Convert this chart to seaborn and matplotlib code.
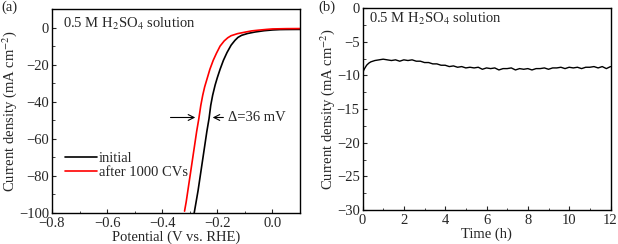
import seaborn as sns
import matplotlib.pyplot as plt
from matplotlib.ticker import MultipleLocator
import numpy as np
import pandas as pd

# LSV curves (potential in V vs RHE, current density in mA cm-2)
pot_init = [0.1, 0.05, 0.027, 0.0, -0.03, -0.063, -0.09, -0.112, -0.125, -0.136,
            -0.15, -0.165, -0.178, -0.19, -0.2, -0.208, -0.217, -0.224, -0.23, -0.238,
            -0.246, -0.254, -0.262, -0.27, -0.277, -0.284]
j_init = [-1.0, -1.05, -1.1, -1.3, -1.7, -2.4, -3.2, -4.2, -5.3, -6.9,
          -9.5, -13.5, -17.7, -22.5, -27, -31, -36.5, -42, -49, -56,
          -64, -72, -80, -88, -94, -100]
pot_cv = [0.1, 0.05, 0.0, -0.021, -0.05, -0.075, -0.1, -0.127, -0.15, -0.162,
          -0.175, -0.19, -0.203, -0.215, -0.227, -0.237, -0.246, -0.253, -0.26, -0.267,
          -0.275, -0.283, -0.291, -0.299, -0.307, -0.313, -0.319]
j_cv = [-0.55, -0.6, -0.75, -1.0, -1.4, -1.8, -2.5, -3.3, -4.4, -5.5,
        -7.2, -10, -13.8, -17.7, -22.5, -27.5, -32, -36.5, -42, -49,
        -56, -64, -72, -80, -88, -94, -99]

# chronoamperometry
time_h = [0.0, 0.05, 0.1, 0.2, 0.3, 0.4, 0.5, 0.6, 0.8, 1.0, 1.2, 1.4, 1.6, 1.8, 2.0, 2.2, 2.4, 2.6,
          2.8, 3.0, 3.2, 3.4, 3.6, 3.8, 4.0, 4.2, 4.4, 4.6, 4.8, 5.0, 5.2, 5.4, 5.6, 5.8,
          6.0, 6.2, 6.4, 6.6, 6.8, 7.0, 7.2, 7.4, 7.6, 7.8, 8.0, 8.2, 8.4, 8.6, 8.8,
          9.0, 9.2, 9.4, 9.6, 9.8, 10.0, 10.2, 10.4, 10.6, 10.8, 11.0, 11.2, 11.4, 11.6, 11.8, 12.0]
j_time = [-9.8, -9.3, -9.0, -8.5, -8.2, -8.0, -7.9, -7.8, -7.7, -7.6, -7.7, -7.8, -7.7, -7.9, -7.7, -7.8, -7.7, -7.9,
          -7.9, -8.1, -8.1, -8.3, -8.3, -8.5, -8.5, -8.7, -8.6, -8.8, -8.7, -8.9, -8.8, -8.9, -8.8, -9.1,
          -8.9, -9.0, -8.9, -9.2, -9.0, -9.0, -8.9, -9.2, -9.0, -9.1, -9.0, -9.2, -9.0, -9.0, -8.9,
          -9.1, -8.9, -8.9, -8.8, -9.0, -8.8, -8.9, -8.8, -9.0, -8.8, -8.8, -8.7, -8.9, -8.7, -9.0, -8.7]

lsv = pd.DataFrame({
    'pot': pot_init + pot_cv,
    'j': j_init + j_cv,
    'curve': ['initial'] * len(pot_init) + ['after 1000 CVs'] * len(pot_cv),
})
ca = pd.DataFrame({'t': time_h, 'j': j_time})

sns.set_style("ticks")
plt.rcParams['font.family'] = ['Liberation Serif', 'DejaVu Serif']
plt.rcParams['mathtext.fontset'] = 'stix'
plt.rcParams['font.size'] = 10.5
plt.rcParams['xtick.direction'] = 'in'
plt.rcParams['ytick.direction'] = 'in'

fig = plt.figure(figsize=(6.18, 2.44), dpi=100)
ax1 = fig.add_axes([52 / 618, 1 - 213 / 244, 248 / 618, 204 / 244])
ax2 = fig.add_axes([362.5 / 618, 1 - 210 / 244, 248 / 618, 202 / 244])

sns.lineplot(data=lsv, x='pot', y='j', hue='curve', palette=['black', 'red'],
             sort=False, lw=1.2, ax=ax1)
ax1.set_xlim(-0.8, 0.1)
ax1.set_ylim(-100, 10)
ax1.xaxis.set_minor_locator(MultipleLocator(0.1))
ax1.yaxis.set_major_locator(MultipleLocator(20))
ax1.yaxis.set_minor_locator(MultipleLocator(10))
ax1.set_xticks([-0.8, -0.6, -0.4, -0.2, 0.0])
ax1.set_xticklabels(['\u22120.8', '\u22120.6', '\u22120.4', '\u22120.2', '0.0'])
ax1.set_xlabel('Potential (V vs. RHE)', labelpad=0)
ax1.set_ylabel('Current density (mA cm$^{-2}$)', labelpad=0)
ax1.legend(loc='lower left', bbox_to_anchor=(0.0, 0.1), frameon=False,
           handlelength=2.2, handletextpad=0.1, labelspacing=0.1, borderaxespad=0.5)
ax1.text(-0.76, 2, '0.5 M H$_2$SO$_4$ solution', va='center', ha='left')
ax1.annotate('', xy=(-0.27, -48.5), xytext=(-0.38, -48.5),
             arrowprops=dict(arrowstyle='->', color='black', lw=0.8))
ax1.annotate('', xy=(-0.227, -48.5), xytext=(-0.168, -48.5),
             arrowprops=dict(arrowstyle='->', color='black', lw=0.8))
ax1.text(-0.16, -48.5, '\u0394=36 mV', va='center', ha='left')

sns.lineplot(data=ca, x='t', y='j', color='black', lw=1.0, ax=ax2)
ax2.set_xlim(0, 12)
ax2.set_ylim(-30, 0)
ax2.xaxis.set_major_locator(MultipleLocator(2))
ax2.xaxis.set_minor_locator(MultipleLocator(1))
ax2.yaxis.set_major_locator(MultipleLocator(5))
ax2.yaxis.set_minor_locator(MultipleLocator(2.5))
ax2.set_xlabel('Time (h)', labelpad=0)
ax2.set_ylabel('Current density (mA cm$^{-2}$)', labelpad=0)
ax2.text(0.3, -1.7, '0.5 M H$_2$SO$_4$ solution', va='center', ha='left')

for ax in (ax1, ax2):
    ax.tick_params(which='major', length=3, width=0.8, top=False, right=False, pad=2)
    ax.tick_params(axis='x', which='major', pad=3)
    ax.tick_params(which='minor', length=1.8, width=0.6)
    for s in ax.spines.values():
        s.set_linewidth(1.0)
        s.set_color('black')

fig.text(1 / 618, 1 - 7 / 244, '(a)', va='center', ha='left')
fig.text(318 / 618, 1 - 7 / 244, '(b)', va='center', ha='left')

fig.savefig('out.png', dpi=100)
